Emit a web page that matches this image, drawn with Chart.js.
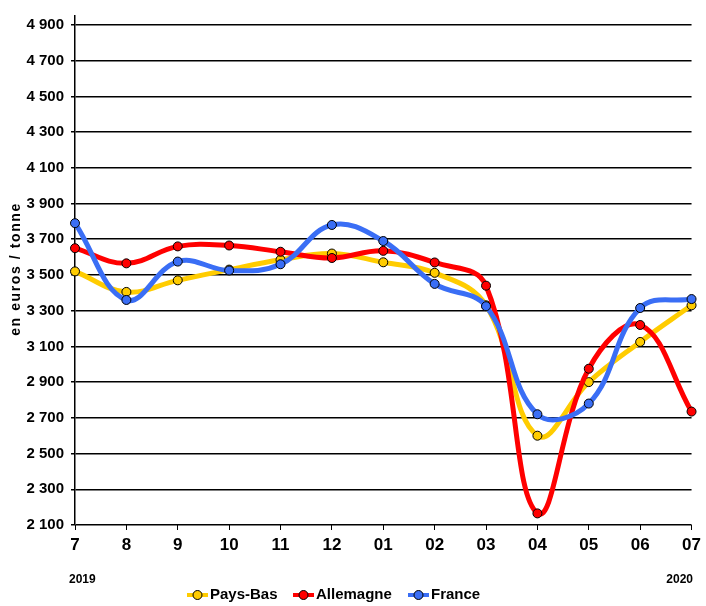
<!DOCTYPE html>
<html>
<head>
<meta charset="utf-8">
<script src="https://cdn.jsdelivr.net/npm/chart.js@4/dist/chart.umd.min.js"></script>
<style>
  html, body { margin: 0; padding: 0; background: #fff; }
  #wrap { width: 706px; height: 606px; position: relative; }
</style>
</head>
<body>
<div id="wrap"><canvas id="c"></canvas></div>
<script>
const months    = ['7','8','9','10','11','12','01','02','03','04','05','06','07'];
const paysBas   = [3520, 3405, 3470, 3530, 3585, 3620, 3571, 3512, 3330, 2600, 2900, 3125, 3330];
const allemagne = [3650, 3565, 3660, 3665, 3630, 3595, 3635, 3570, 3440, 2165, 2975, 3220, 2735];
const france    = [3790, 3360, 3575, 3525, 3560, 3780, 3690, 3450, 3325, 2720, 2780, 3315, 3365];
const yTicks    = [2100, 2300, 2500, 2700, 2900, 3100, 3300, 3500, 3700, 3900, 4100, 4300, 4500, 4700, 4900];
const yearLeft  = '2019';
const yearRight = '2020';
const yTitle    = 'en euros / tonne';

const FONT = "'Liberation Sans', Arial, sans-serif";

function series(label, data, color, order) {
  return {
    label, data, order,
    borderColor: color,
    backgroundColor: color,
    borderWidth: 5,
    tension: 0.4,
    pointRadius: 4.5,
    pointBorderColor: '#000',
    pointBorderWidth: 1,
    pointBackgroundColor: color,
    clip: false
  };
}

// ── extras: y title, years, legend ────────────────
const extras = {
  id: 'extras',
  afterDraw(chart) {
    const ctx = chart.ctx;
    ctx.save();
    ctx.fillStyle = '#000';
    ctx.font = `bold 14px ${FONT}`;
    ctx.letterSpacing = '1.6px';
    ctx.translate(16, 269);
    ctx.rotate(-Math.PI / 2);
    ctx.textAlign = 'center';
    ctx.textBaseline = 'middle';
    ctx.fillText(yTitle, 0, 0);
    ctx.restore();

    ctx.save();
    ctx.fillStyle = '#000';
    ctx.font = `bold 12px ${FONT}`;
    ctx.textBaseline = 'middle';
    ctx.textAlign = 'left';
    ctx.fillText(yearLeft, 69, 580);
    ctx.textAlign = 'right';
    ctx.fillText(yearRight, 693, 580);

    // legend
    const starts = [187, 293, 408];
    ctx.font = `bold 15px ${FONT}`;
    ctx.textAlign = 'left';
    chart.data.datasets.forEach((ds, i) => {
      const x = starts[i], y = 595;
      ctx.strokeStyle = ds.borderColor;
      ctx.lineWidth = 4;
      ctx.beginPath(); ctx.moveTo(x, y); ctx.lineTo(x + 21, y); ctx.stroke();
      ctx.fillStyle = ds.borderColor;
      ctx.strokeStyle = '#000';
      ctx.lineWidth = 1;
      ctx.beginPath(); ctx.arc(x + 10.5, y, 4.5, 0, Math.PI * 2); ctx.fill(); ctx.stroke();
      ctx.fillStyle = '#000';
      ctx.fillText(ds.label, x + 23, y);
    });
    ctx.restore();
  }
};

new Chart(document.getElementById('c'), {
  type: 'line',
  data: {
    labels: months,
    datasets: [
      series('Pays-Bas',  paysBas,   '#ffcc00', 3),
      series('Allemagne', allemagne, '#ff0000', 2),
      series('France',    france,    '#3a6ef5', 1)
    ]
  },
  options: {
    responsive: true,
    maintainAspectRatio: false,
    animation: false,
    layout: { padding: { top: 0, right: 8, left: 0, bottom: 0 } },
    plugins: { legend: { display: false }, tooltip: { enabled: false } },
    scales: {
      x: {
        offset: false,
        grid: { drawOnChartArea: false, drawTicks: true, tickLength: 5, color: '#000', lineWidth: 1 },
        border: { display: false },
        ticks: { color: '#000', font: { family: FONT, size: 17, weight: 'bold' }, padding: 5, maxRotation: 0, autoSkip: false },
        afterFit: s => { s.height = 81; }
      },
      y: {
        min: 2100, max: 4950,
        grid: { color: '#000', lineWidth: 1.5, tickLength: 4 },
        border: { color: '#000', width: 1.5 },
        ticks: {
          color: '#000', padding: 7,
          font: { family: FONT, size: 15, weight: 'bold' },
          callback: v => String(v).replace(/^(\d)(\d{3})$/, '$1 $2')
        },
        afterBuildTicks: s => { s.ticks = yTicks.map(v => ({ value: v })); },
        afterFit: s => { s.width = 75; }
      }
    }
  },
  plugins: [extras]
});
</script>
</body>
</html>
